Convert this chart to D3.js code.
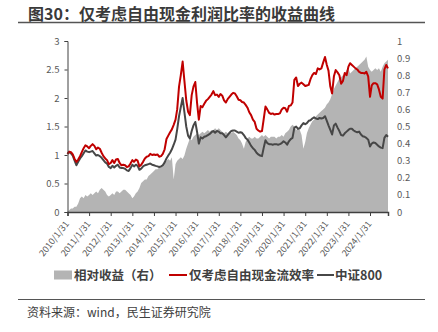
<!DOCTYPE html>
<html>
<head>
<meta charset="utf-8">
<script src="https://cdn.jsdelivr.net/npm/d3@7"></script>
<style>
  body { margin: 0; background: #fff; }
  svg { display: block; }
  text { font-family: "Noto Sans CJK SC", "Noto Sans", sans-serif; }
</style>
</head>
<body>
<svg id="chart" width="438" height="332"></svg>
<script>
// Monthly series, month-end dates starting January 2010
const firstYear = 2010;
const yearTickLabels = ["2010/1/31","2011/1/31","2012/1/31","2013/1/31","2014/1/31","2015/1/31","2016/1/31",
  "2017/1/31","2018/1/31","2019/1/31","2020/1/31","2021/1/31","2022/1/31","2023/1/31","2024/1/31"];

// 仅考虑自由现金流效率 (left axis, net value)
const fcfEfficiency = [
  1.02,1.06,1.05,1.01,0.93,0.88,0.92,0.98,1.05,1.12,1.17,1.15,
  1.12,1.16,1.19,1.16,1.10,1.13,1.11,1.04,0.98,0.94,0.91,0.84,
  0.86,0.91,0.86,0.92,0.93,0.86,0.82,0.83,0.82,0.79,0.80,0.85,
  0.91,0.88,0.92,0.90,0.80,0.83,0.88,0.94,0.97,0.98,1.02,1.00,
  1.01,1.00,1.01,0.97,0.98,1.02,1.10,1.28,1.34,1.40,1.45,1.53,
  1.62,1.80,2.20,2.40,2.64,2.30,1.96,1.76,1.70,2.05,2.20,2.28,
  1.90,1.62,1.86,1.84,1.90,1.95,1.98,2.02,2.06,2.12,2.05,2.06,
  2.02,2.07,2.04,1.96,1.92,1.98,2.02,2.06,2.09,2.08,2.03,1.97,
  1.96,1.93,1.92,1.88,1.83,1.75,1.70,1.62,1.58,1.46,1.43,1.41,
  1.42,1.62,1.85,1.80,1.74,1.72,1.73,1.71,1.72,1.72,1.73,1.80,
  1.83,1.82,1.76,1.86,1.87,1.92,2.32,2.36,2.21,2.25,2.27,2.24,
  2.21,2.22,2.23,2.33,2.40,2.44,2.42,2.52,2.50,2.52,2.62,2.72,
  2.58,2.48,2.20,2.08,2.38,2.49,2.45,2.40,2.25,2.30,2.44,2.40,
  2.55,2.61,2.58,2.55,2.52,2.50,2.46,2.44,2.44,2.43,2.46,2.38,
  2.02,2.22,2.26,2.26,2.24,2.15,2.02,1.99,2.50,2.58,2.52
];

// 中证800 (left axis, net value)
const csi800 = [
  1.02,1.05,1.03,0.99,0.90,0.82,0.88,0.94,0.98,1.03,1.08,1.06,
  1.05,1.06,1.07,1.03,0.99,1.00,0.98,0.95,0.91,0.87,0.85,0.79,
  0.77,0.81,0.78,0.81,0.83,0.78,0.77,0.77,0.76,0.73,0.72,0.77,
  0.83,0.80,0.83,0.81,0.74,0.76,0.80,0.82,0.83,0.84,0.85,0.83,
  0.82,0.81,0.80,0.79,0.80,0.82,0.87,0.94,0.99,1.04,1.10,1.18,
  1.27,1.45,1.68,1.84,2.00,1.75,1.50,1.34,1.29,1.42,1.52,1.58,
  1.40,1.20,1.31,1.29,1.32,1.33,1.35,1.37,1.40,1.42,1.39,1.42,
  1.41,1.38,1.38,1.35,1.31,1.35,1.39,1.42,1.43,1.43,1.41,1.39,
  1.40,1.39,1.35,1.30,1.27,1.22,1.16,1.12,1.09,1.04,1.01,0.99,
  0.98,1.12,1.26,1.21,1.19,1.19,1.18,1.19,1.19,1.18,1.19,1.21,
  1.24,1.22,1.18,1.24,1.28,1.30,1.48,1.50,1.46,1.47,1.52,1.56,
  1.54,1.56,1.60,1.61,1.64,1.66,1.64,1.63,1.65,1.64,1.65,1.68,
  1.60,1.52,1.44,1.36,1.52,1.55,1.48,1.42,1.35,1.34,1.38,1.41,
  1.44,1.46,1.46,1.43,1.41,1.40,1.41,1.36,1.33,1.32,1.30,1.27,
  1.15,1.20,1.22,1.21,1.18,1.15,1.13,1.12,1.30,1.35,1.32
];

// 相对收益（右）
const excessReturn = [
  0.00,0.01,0.02,0.02,0.03,0.03,0.05,0.08,0.09,0.08,0.10,0.09,
  0.10,0.11,0.10,0.11,0.12,0.11,0.13,0.14,0.13,0.12,0.10,0.09,
  0.10,0.11,0.10,0.12,0.12,0.11,0.12,0.13,0.13,0.12,0.11,0.10,
  0.08,0.09,0.11,0.12,0.14,0.17,0.18,0.19,0.19,0.21,0.22,0.23,
  0.24,0.25,0.25,0.26,0.27,0.28,0.29,0.30,0.31,0.30,0.32,0.19,
  0.28,0.30,0.31,0.32,0.31,0.33,0.37,0.40,0.43,0.42,0.44,0.45,
  0.46,0.45,0.46,0.47,0.46,0.47,0.48,0.47,0.48,0.48,0.49,0.48,
  0.49,0.48,0.47,0.46,0.47,0.46,0.47,0.46,0.47,0.46,0.45,0.43,
  0.42,0.40,0.37,0.41,0.43,0.44,0.43,0.43,0.44,0.43,0.43,0.44,
  0.45,0.44,0.45,0.44,0.43,0.44,0.44,0.44,0.43,0.44,0.44,0.45,
  0.44,0.46,0.47,0.48,0.50,0.51,0.50,0.48,0.49,0.48,0.45,0.37,
  0.41,0.46,0.49,0.51,0.53,0.54,0.56,0.57,0.58,0.59,0.60,0.61,
  0.63,0.64,0.66,0.69,0.72,0.74,0.76,0.78,0.79,0.80,0.81,0.83,
  0.84,0.81,0.82,0.83,0.84,0.85,0.86,0.87,0.88,0.89,0.91,0.85,
  0.83,0.82,0.83,0.84,0.83,0.84,0.82,0.85,0.87,0.88,0.89
];

const leftTicks = [0, 0.5, 1, 1.5, 2, 2.5, 3];
const rightTicks = [0, 0.1, 0.2, 0.3, 0.4, 0.5, 0.6, 0.7, 0.8, 0.9, 1];

const titleText = "图30：仅考虑自由现金利润比率的收益曲线";
const sourceText = "资料来源：wind，民生证券研究院";
const legendItems = [
  { key: "area", label: "相对收益（右）" },
  { key: "red", label: "仅考虑自由现金流效率" },
  { key: "dark", label: "中证800" }
];

const COLORS = { red: "#C00000", dark: "#474747", area: "#B4B4B4", axis: "#404040", tick: "#595959" };

const svg = d3.select("#chart");

// month-end dates
const dates = fcfEfficiency.map((_, i) => new Date(firstYear, i + 1, 0));
const rows = dates.map((d, i) => ({ date: d, fcf: fcfEfficiency[i], csi: csi800[i], ex: excessReturn[i] }));

const plot = { left: 67.5, right: 388, top: 41, bottom: 212 };

const x = d3.scaleTime().domain([dates[0], dates[dates.length - 1]]).range([plot.left, plot.right]);
const yL = d3.scaleLinear().domain([0, 3]).range([plot.bottom, plot.top]);
const yR = d3.scaleLinear().domain([0, 1]).range([plot.bottom, plot.top]);

// Title and rule
svg.append("text").attr("x", 28).attr("y", 19.5)
  .attr("font-size", 16).attr("font-weight", "bold").attr("fill", "#3a3a3a")
  .text(titleText);
svg.append("line").attr("x1", 18).attr("x2", 425).attr("y1", 22.5).attr("y2", 22.5)
  .attr("stroke", "#555").attr("stroke-width", 1.5);

// Excess return area (right axis)
svg.append("path").datum(rows)
  .attr("fill", COLORS.area)
  .attr("d", d3.area().x(d => x(d.date)).y0(yR(0)).y1(d => yR(d.ex)));

// Lines
const lineFor = key => d3.line().x(d => x(d.date)).y(d => yL(d[key]));
svg.append("path").datum(rows).attr("fill", "none").attr("stroke", COLORS.dark)
  .attr("stroke-width", 2).attr("stroke-linejoin", "round").attr("d", lineFor("csi"));
svg.append("path").datum(rows).attr("fill", "none").attr("stroke", COLORS.red)
  .attr("stroke-width", 2).attr("stroke-linejoin", "round").attr("d", lineFor("fcf"));

// Left axis
const gL = svg.append("g").attr("transform", `translate(${plot.left},0)`)
  .call(d3.axisLeft(yL).tickValues(leftTicks).tickSize(3).tickPadding(5).tickFormat(d3.format("~g")));
gL.select(".domain").attr("stroke", COLORS.axis).attr("stroke-width", 1);
gL.selectAll(".tick line").attr("stroke", COLORS.axis);
gL.selectAll("text").attr("font-size", 9.5).attr("fill", COLORS.tick);

// Right axis (labels only)
const gR = svg.append("g").attr("transform", `translate(${plot.right + 8},0)`)
  .call(d3.axisRight(yR).tickValues(rightTicks).tickSize(0).tickPadding(1).tickFormat(d3.format("~g")));
gR.select(".domain").remove();
gR.selectAll("text").attr("font-size", 9.5).attr("fill", COLORS.tick);

// Bottom axis with yearly ticks
const tickDates = yearTickLabels.map(s => { const p = s.split("/").map(Number); return new Date(p[0], p[1] - 1, p[2]); });
const gB = svg.append("g").attr("transform", `translate(0,${plot.bottom})`)
  .call(d3.axisBottom(x).tickValues(tickDates).tickSize(4).tickFormat((d, i) => yearTickLabels[i]));
gB.select(".domain").attr("stroke", COLORS.axis).attr("stroke-width", 1.5);
gB.selectAll(".tick line").attr("stroke", COLORS.axis);
gB.selectAll("text")
  .attr("font-size", 9).attr("fill", COLORS.tick)
  .attr("text-anchor", "end").attr("dy", null).attr("y", null)
  .attr("transform", "translate(1.5,12) rotate(-52)");

// Legend
const legendY = 275;
const lg = svg.append("g").attr("font-size", 12.5).attr("font-weight", "bold").attr("fill", "#404040");
lg.append("rect").attr("x", 54).attr("y", legendY - 4.5).attr("width", 18).attr("height", 9).attr("fill", COLORS.area);
lg.append("text").attr("x", 74).attr("y", legendY + 4.5).text(legendItems[0].label);
lg.append("line").attr("x1", 169).attr("x2", 187).attr("y1", legendY).attr("y2", legendY)
  .attr("stroke", COLORS.red).attr("stroke-width", 2);
lg.append("text").attr("x", 189).attr("y", legendY + 4.5).text(legendItems[1].label);
lg.append("line").attr("x1", 317).attr("x2", 334).attr("y1", legendY).attr("y2", legendY)
  .attr("stroke", COLORS.dark).attr("stroke-width", 2);
lg.append("text").attr("x", 335).attr("y", legendY + 4.5).text(legendItems[2].label);

// Footer rule and source
svg.append("line").attr("x1", 18).attr("x2", 425).attr("y1", 299.5).attr("y2", 299.5)
  .attr("stroke", "#555").attr("stroke-width", 1.2);
svg.append("text").attr("x", 27).attr("y", 316.5).attr("font-size", 12).attr("fill", "#404040")
  .text(sourceText);
</script>
</body>
</html>
